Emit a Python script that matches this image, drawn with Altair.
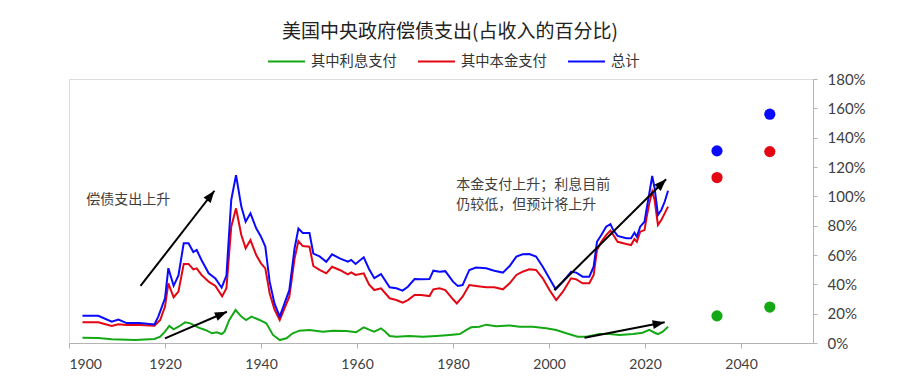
import altair as alt
import pandas as pd

# ---- data ----
series_names = ["其中利息支付", "其中本金支付", "总计"]
series_colors = ["#14a814", "#e30613", "#0a0aff"]

total_years = [1902.8, 1906.1, 1908.9, 1910.3, 1912.0, 1914.7, 1917.8, 1918.6, 1920.0, 1920.7,
               1921.8, 1922.8, 1923.9, 1924.9, 1925.9, 1926.6, 1927.6, 1929.1, 1930.5, 1931.8,
               1932.8, 1933.8, 1934.8, 1935.9, 1936.8, 1937.8, 1939.0, 1940.0, 1940.9, 1941.8,
               1942.8, 1943.9, 1944.9, 1945.9, 1947.0, 1947.8, 1948.7, 1950.1, 1950.9, 1952.2,
               1953.6, 1954.8, 1956.4, 1958.1, 1958.8, 1959.7, 1961.4, 1962.5, 1963.6, 1965.0,
               1966.8, 1968.2, 1969.5, 1970.6, 1972.0, 1973.4, 1975.1, 1975.9, 1977.2, 1978.4,
               1980.0, 1981.0, 1982.0, 1983.4, 1984.8, 1986.9, 1988.6, 1990.4, 1991.8, 1993.2,
               1994.5, 1995.9, 1997.3, 1998.7, 2000.1, 2001.4, 2002.9, 2004.6, 2005.7, 2007.0,
               2008.4, 2009.3, 2010.0, 2010.9, 2011.9, 2012.8, 2013.4, 2014.3, 2016.1, 2017.1,
               2017.8, 2018.3, 2019.0, 2019.9, 2020.3, 2020.9, 2021.5, 2022.0, 2022.7, 2023.4,
               2024.1, 2024.8]
total_values = [18.6, 18.5, 14.5, 16.0, 13.6, 13.6, 12.7, 18.0, 30.5, 51.0,
                39.0, 46.0, 68.0, 68.0, 62.0, 63.4, 56.6, 47.5, 44.0, 37.7,
                46.0, 97.5, 114.5, 93.0, 82.7, 88.4, 78.2, 72.5, 65.7, 41.8,
                27.0, 18.0, 27.0, 36.0, 64.6, 78.0, 75.0, 75.0, 61.0, 59.0,
                55.4, 60.5, 57.7, 55.4, 56.6, 53.9, 58.4, 50.5, 44.2, 47.0,
                38.0, 37.3, 35.7, 38.4, 43.6, 43.4, 43.6, 49.3, 48.6, 49.0,
                41.8, 38.9, 39.5, 49.8, 51.4, 50.9, 49.3, 48.0, 52.5, 58.9,
                60.5, 60.7, 59.0, 52.0, 44.0, 36.6, 41.8, 48.6, 48.0, 45.2,
                45.2, 52.0, 69.0, 73.6, 79.3, 81.0, 77.0, 73.0, 71.4, 71.4,
                75.2, 72.5, 79.3, 82.7, 90.7, 102.0, 113.9, 105.5, 87.3, 90.7,
                96.3, 103.8]

principal_years = [1902.8, 1906.1, 1908.9, 1910.3, 1912.0, 1914.7, 1917.8, 1919.0, 1920.0, 1920.7,
                   1921.8, 1922.8, 1923.9, 1924.9, 1925.9, 1926.6, 1927.6, 1929.1, 1930.5, 1931.9,
                   1932.8, 1933.8, 1934.8, 1935.9, 1936.8, 1937.8, 1939.0, 1940.0, 1940.9, 1941.8,
                   1942.8, 1943.9, 1944.9, 1945.9, 1947.0, 1947.8, 1948.7, 1950.1, 1950.9, 1952.2,
                   1953.6, 1954.8, 1956.4, 1958.1, 1958.8, 1959.7, 1961.4, 1962.5, 1963.6, 1965.0,
                   1966.8, 1968.2, 1969.5, 1970.6, 1972.0, 1973.4, 1975.1, 1975.9, 1977.2, 1978.4,
                   1980.0, 1980.8, 1982.0, 1983.4, 1984.8, 1986.9, 1988.6, 1990.4, 1991.8, 1993.2,
                   1994.5, 1995.9, 1997.3, 1998.7, 2000.1, 2001.5, 2002.9, 2004.6, 2005.7, 2007.0,
                   2008.4, 2009.3, 2010.0, 2010.9, 2011.9, 2012.8, 2013.4, 2014.3, 2016.1, 2017.1,
                   2017.8, 2018.3, 2019.0, 2019.9, 2020.3, 2020.9, 2021.5, 2022.0, 2022.7, 2023.4,
                   2024.1, 2024.8]
principal_values = [14.1, 14.1, 11.6, 12.7, 12.3, 12.3, 11.8, 15.7, 24.8, 40.7,
                    31.2, 35.0, 53.9, 53.9, 50.2, 50.9, 46.4, 41.8, 38.9, 31.8,
                    37.3, 79.3, 91.8, 73.6, 64.6, 70.2, 60.0, 54.3, 50.9, 33.9,
                    23.0, 15.7, 23.6, 31.6, 57.7, 69.5, 66.1, 65.7, 52.5, 49.8,
                    47.5, 52.0, 49.8, 46.8, 48.2, 46.4, 47.5, 40.0, 36.1, 37.3,
                    30.5, 29.3, 27.5, 29.3, 32.7, 32.7, 32.0, 36.6, 37.3, 36.1,
                    29.8, 27.0, 31.6, 39.5, 38.9, 38.0, 38.0, 36.6, 40.7, 46.4,
                    48.6, 50.2, 49.8, 44.1, 36.1, 29.3, 35.0, 44.1, 43.4, 40.7,
                    40.7, 46.4, 63.4, 69.0, 73.6, 76.6, 73.6, 69.0, 67.5, 66.8,
                    70.9, 69.0, 75.9, 77.0, 85.0, 95.2, 103.2, 97.5, 80.5, 83.9,
                    88.4, 93.0]

interest_years = [1902.8, 1906.1, 1908.9, 1913.8, 1917.8, 1919.0, 1920.0, 1920.9, 1921.8, 1922.8,
                  1924.2, 1925.3, 1927.0, 1928.4, 1929.8, 1930.8, 1931.8, 1932.4, 1933.4, 1934.7,
                  1935.9, 1936.9, 1938.0, 1939.7, 1941.1, 1942.5, 1943.9, 1945.3, 1946.6, 1948.0,
                  1950.1, 1952.9, 1955.0, 1957.8, 1959.8, 1961.4, 1963.0, 1963.6, 1965.0, 1965.9,
                  1966.8, 1968.2, 1970.9, 1973.7, 1976.5, 1979.3, 1981.4, 1982.8, 1983.8, 1985.5,
                  1986.9, 1989.0, 1991.8, 1993.9, 1996.6, 1999.4, 2001.5, 2003.6, 2006.0, 2007.8,
                  2010.5, 2012.6, 2014.7, 2017.5, 2019.5, 2020.9, 2022.0, 2022.7, 2023.7, 2024.8]
interest_values = [3.6, 3.4, 2.5, 2.0, 2.7, 4.3, 7.7, 11.6, 9.3, 11.1,
                   14.1, 13.4, 10.5, 8.9, 6.6, 7.3, 6.1, 7.7, 15.7, 22.5,
                   18.0, 15.7, 18.0, 15.7, 13.4, 5.5, 2.0, 3.2, 6.6, 8.4,
                   8.9, 7.7, 8.4, 8.2, 7.3, 10.7, 8.4, 7.7, 10.0, 7.7,
                   4.8, 4.3, 4.8, 4.3, 4.8, 5.5, 6.1, 8.9, 10.7, 11.1,
                   12.5, 11.4, 12.0, 11.1, 11.1, 10.0, 8.9, 6.6, 4.3, 4.3,
                   6.1, 6.1, 5.5, 6.1, 7.0, 8.9, 7.0, 6.1, 7.7, 11.1]

proj_years = [2035, 2046]
proj_total = [131.0, 156.0]
proj_principal = [112.8, 130.5]
proj_interest = [18.5, 24.5]

# annotation arrows (start -> tip) and angles of the heads
arrow_x0 = [1914.9, 1920.0, 2001.1, 2007.4]
arrow_y0 = [38.9, 3.2, 36.1, 3.6]
arrow_x1 = [1930.3, 1932.9, 2024.4, 2024.1]
arrow_y1 = [103.8, 21.3, 111.6, 14.1]
arrow_angle = [37.7, 66.6, 45.3, 79.1]

note_text = ["偿债支出上升", "本金支付上升；利息目前\n仍较低，但预计将上升"]
note_x = [1903.6, 1980.7]
note_y = [97.5, 107.7]

x_ticks = [1900, 1920, 1940, 1960, 1980, 2000, 2020, 2040]
y_ticks = [0, 20, 40, 60, 80, 100, 120, 140, 160, 180]

# ---- tables ----
lines_df = pd.concat([
    pd.DataFrame({"year": interest_years, "value": interest_values, "series": series_names[0]}),
    pd.DataFrame({"year": principal_years, "value": principal_values, "series": series_names[1]}),
    pd.DataFrame({"year": total_years, "value": total_values, "series": series_names[2]}),
], ignore_index=True)

proj_df = pd.concat([
    pd.DataFrame({"year": proj_years, "value": proj_interest, "series": series_names[0]}),
    pd.DataFrame({"year": proj_years, "value": proj_principal, "series": series_names[1]}),
    pd.DataFrame({"year": proj_years, "value": proj_total, "series": series_names[2]}),
], ignore_index=True)

arrows_df = pd.DataFrame({"x0": arrow_x0, "y0": arrow_y0, "x1": arrow_x1,
                          "y1": arrow_y1, "angle": arrow_angle})
notes_df = pd.DataFrame({"text": note_text, "x": note_x, "y": note_y})

GRAY = "#b3b3b3"
LABEL = "#404040"
CJK = "Noto Sans CJK SC"

x_scale = alt.Scale(domain=[1900, 2055], nice=False, zero=False)
y_scale = alt.Scale(domain=[0, 180], nice=False)
x_axis = alt.Axis(values=x_ticks, format="d", grid=False, title=None, tickSize=5,
                  labelFontSize=14, labelFont="Lato", labelColor=LABEL, labelPadding=9,
                  labelOverlap=False, domainColor=GRAY, tickColor=GRAY)
y_axis = alt.Axis(values=y_ticks, orient="right", labelExpr="datum.value + '%'", grid=False,
                  title=None, tickSize=4, labelFontSize=15, labelFont="Lato",
                  labelColor=LABEL, labelPadding=10, labelOverlap=False,
                  domainColor=GRAY, tickColor=GRAY)
color_scale = alt.Scale(domain=series_names, range=series_colors)


def xq(field):
    return alt.X(field, type="quantitative", scale=x_scale, axis=x_axis)


def yq(field):
    return alt.Y(field, type="quantitative", scale=y_scale, axis=y_axis)


lines = alt.Chart(lines_df).mark_line(strokeWidth=2).encode(
    x=xq("year"),
    y=yq("value"),
    color=alt.Color("series:N", scale=color_scale, sort=series_names,
                    legend=alt.Legend(orient="none", legendX=198, legendY=-37,
                                      direction="horizontal", title=None,
                                      symbolType="stroke", symbolSize=1369,
                                      symbolStrokeWidth=2, labelFont=CJK,
                                      labelFontSize=14.3, labelColor="#333333",
                                      labelOffset=5, columnPadding=17, padding=0)),
    order=alt.Order("year:Q"),
)

points = alt.Chart(proj_df).mark_circle(size=125, opacity=1).encode(
    x=xq("year"),
    y=yq("value"),
    color=alt.Color("series:N", scale=color_scale, legend=None),
)

rules = alt.Chart(arrows_df).mark_rule(strokeWidth=2, color="black").encode(
    x=xq("x0"),
    y=yq("y0"),
    x2="x1:Q",
    y2="y1:Q",
)

heads = alt.Chart(arrows_df).mark_point(
    shape="M0,0L-0.75,2L0.75,2Z", filled=True, color="black", size=144, opacity=1
).encode(
    x=xq("x1"),
    y=yq("y1"),
    angle=alt.Angle("angle:Q", scale=None),
)

notes = alt.Chart(notes_df).mark_text(
    align="left", baseline="middle", font=CJK, fontSize=14, color=LABEL,
    lineBreak="\n", lineHeight=20
).encode(
    x=xq("x"),
    y=yq("y"),
    text="text:N",
)

chart = alt.layer(lines, points, rules, heads, notes).properties(
    width=744,
    height=264,
    autosize=alt.AutoSizeParams(type="none"),
    padding={"left": 61, "top": 71, "right": 79, "bottom": 41},
    title=alt.TitleParams("美国中央政府偿债支出(占收入的百分比)", font=CJK, fontSize=19,
                          fontWeight="normal", color="#222222", anchor="middle",
                          frame="group", dx=9, offset=0),
).configure_view(stroke=GRAY, strokeWidth=1).configure(background="white")

chart.save("out.html", embed_options={"renderer": "svg", "actions": False})
